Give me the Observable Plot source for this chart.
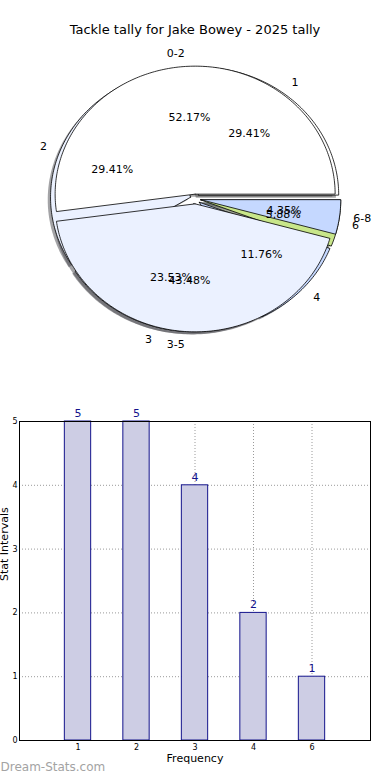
<!DOCTYPE html>
<html>
<head>
<meta charset="utf-8">
<script src="https://cdn.jsdelivr.net/npm/d3@7"></script>
<script src="https://cdn.jsdelivr.net/npm/@observablehq/plot@0.6"></script>
<style>
  html, body { margin: 0; padding: 0; background: #fff; }
  #wrap { position: relative; width: 390px; height: 780px; overflow: hidden; font-family: "DejaVu Sans", sans-serif; }
  #title { position: absolute; left: 0; top: 22px; width: 390px; text-align: center; font-size: 13px; line-height: 16px; color: #000; z-index: 2; }
  #pie { position: absolute; left: 0; top: 0; }
  #bar { position: absolute; left: 0; top: 400px; }
  svg { display: block; }
</style>
</head>
<body>
<div id="wrap">
  <div id="title">Tackle tally for Jake Bowey - 2025 tally</div>
  <div id="pie"></div>
  <div id="bar"></div>
</div>
<script>
// ---- data ----
const outerLabels = ["1", "2", "3", "4", "6"];
const outerValues = [5, 5, 4, 2, 1];
const outerColors = ["#ffffff", "#ebf1ff", "#ebf1ff", "#c5d8ff", "#c8e68a"];

const innerLabels = ["0-2", "3-5", "6-8"];
const innerValues = [12, 10, 1];
const innerColors = ["#ffffff", "#ebf1ff", "#c5d8ff"];

const freqLabels = ["1", "2", "3", "4", "6"];
const intervalValues = [5, 5, 4, 2, 1];
const yTicks = [0, 1, 2, 3, 4, 5];

// ---- pie geometry (data units, radius 1) ----
const explode = 0.038;
const shadowOff = 0.02;

function makeWedges(values, labels, colors) {
  const total = d3.sum(values);
  let a = 0;
  return values.map((v, i) => {
    const a0 = a, a1 = a + v / total * 360;
    a = a1;
    const mid = (a0 + a1) / 2 * Math.PI / 180;
    const ox = explode * Math.cos(mid), oy = explode * Math.sin(mid);
    const n = Math.max(2, Math.ceil(a1 - a0));
    const pts = [{x: ox, y: oy}];
    for (let k = 0; k <= n; k++) {
      const t = (a0 + (a1 - a0) * k / n) * Math.PI / 180;
      pts.push({x: ox + Math.cos(t), y: oy + Math.sin(t)});
    }
    pts.push({x: ox, y: oy});
    const lx = ox + 1.1 * Math.cos(mid), ly = oy + 1.1 * Math.sin(mid);
    return {
      label: labels[i], color: colors[i], pts,
      shadow: pts.map(p => ({x: p.x - shadowOff, y: p.y - shadowOff})),
      lx, ly, anchor: lx > 0 ? "start" : "end",
      px: ox + 0.6 * Math.cos(mid), py: oy + 0.6 * Math.sin(mid),
      pct: (v / total * 100).toFixed(2) + "%"
    };
  });
}

const outer = makeWedges(outerValues, outerLabels, outerColors);
const inner = makeWedges(innerValues, innerLabels, innerColors);
const all = outer.concat(inner);

function shadowColor(c) {
  const r = d3.rgb(c);
  return d3.rgb(r.r * 0.3, r.g * 0.3, r.b * 0.3).formatHex();
}

const cx = 195, cy = 198.5, rx = 140, ry = 128, pieW = 390, pieH = 390;

const pieMarks = [];
all.forEach(w => pieMarks.push(Plot.line(w.shadow, {x: "x", y: "y", fill: shadowColor(w.color), fillOpacity: 0.5, stroke: "none"})));
outer.forEach(w => pieMarks.push(Plot.line(w.pts, {x: "x", y: "y", fill: w.color, stroke: "#000", strokeWidth: 0.8, strokeLinejoin: "miter"})));
inner.forEach(w => pieMarks.push(Plot.line(w.pts, {x: "x", y: "y", fill: w.color, stroke: "#000", strokeWidth: 0.8, strokeLinejoin: "miter"})));
[outer, inner].forEach(ring => {
  pieMarks.push(Plot.text(ring.filter(w => w.anchor === "start"), {x: "lx", y: "ly", text: "label", textAnchor: "start", fontSize: 11, fill: "#000"}));
  pieMarks.push(Plot.text(ring.filter(w => w.anchor === "end"), {x: "lx", y: "ly", text: "label", textAnchor: "end", fontSize: 11, fill: "#000"}));
  pieMarks.push(Plot.text(ring, {x: "px", y: "py", text: "pct", textAnchor: "middle", fontSize: 11, fill: "#000"}));
});

const pie = Plot.plot({
  width: pieW, height: pieH,
  marginLeft: 0, marginRight: 0, marginTop: 0, marginBottom: 0,
  x: {domain: [-cx / rx, (pieW - cx) / rx], axis: null},
  y: {domain: [-(pieH - cy) / ry, cy / ry], axis: null},
  style: {fontFamily: "DejaVu Sans", background: "transparent"},
  marks: pieMarks
});
document.getElementById("pie").appendChild(pie);

// ---- bar chart ----
const bars = freqLabels.map((f, i) => ({i, label: f, value: intervalValues[i]}));
const barW = 0.45;

const bar = Plot.plot({
  width: 390, height: 380,
  marginLeft: 19, marginRight: 20, marginTop: 21, marginBottom: 40,
  x: {domain: [-1, 5]},
  y: {domain: [0, 5]},
  style: {fontFamily: "DejaVu Sans", background: "transparent"},
  marks: [
    Plot.gridX(bars.map(d => d.i), {stroke: "#9a9a9a", strokeOpacity: 1, strokeDasharray: "1,2"}),
    Plot.gridY(yTicks, {stroke: "#9a9a9a", strokeOpacity: 1, strokeDasharray: "1,2"}),
    Plot.rectY(bars, {x1: d => d.i - barW / 2, x2: d => d.i + barW / 2, y1: 0, y2: "value", fill: "#cdcde4", stroke: "#14148c", strokeWidth: 1}),
    Plot.frame({stroke: "#000", strokeWidth: 1}),
    Plot.axisX(bars.map(d => d.i), {tickFormat: i => freqLabels[i], tickSize: 0, tickPadding: 4, fontSize: 8, label: null}),
    Plot.axisY(yTicks, {tickFormat: d => String(d), tickSize: 0, tickPadding: 2, fontSize: 8, label: null}),
    Plot.text(bars, {x: "i", y: "value", text: d => String(d.value), dy: -8, fontSize: 11, fill: "#14148c"}),
    Plot.text(["Stat Intervals"], {frameAnchor: "left", dx: -15, rotate: -90, fontSize: 11, fill: "#000"}),
    Plot.text(["Frequency"], {frameAnchor: "bottom", dy: 21, fontSize: 11, fill: "#000"}),
    Plot.text(["Dream-Stats.com"], {frameAnchor: "bottom-left", dx: -19, dy: 30, textAnchor: "start", fontSize: 12, fill: "#a3a3a3"})
  ]
});
document.getElementById("bar").appendChild(bar);
</script>
</body>
</html>
